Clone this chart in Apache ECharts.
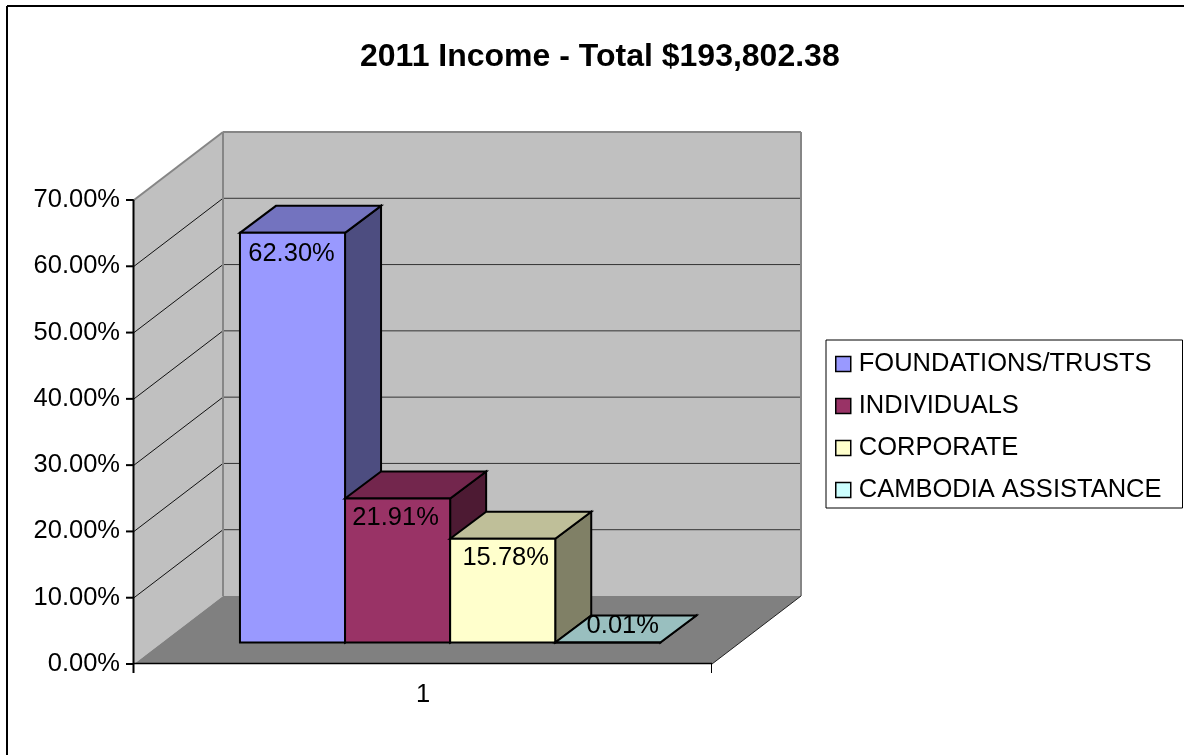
<!DOCTYPE html>
<html>
<head>
<meta charset="utf-8">
<title>2011 Income</title>
<script src="https://cdn.jsdelivr.net/npm/echarts@6/dist/echarts.min.js"></script>
<style>
html, body { margin: 0; padding: 0; background: #fff; }
#main { width: 1184px; height: 755px; }
</style>
</head>
<body>
<div id="main"></div>
<script>
const titleText = '2011 Income - Total $193,802.38';
const categories = ['1'];
const seriesNames = ['FOUNDATIONS/TRUSTS', 'INDIVIDUALS', 'CORPORATE', 'CAMBODIA ASSISTANCE'];
const seriesValues = [62.30, 21.91, 15.78, 0.01];
const valueTicks = [0, 10, 20, 30, 40, 50, 60, 70];

const frontColors = ['#9999FF', '#993366', '#FFFFCC', '#CCFFFF'];
const topColors = ['#7373BF', '#73264D', '#BFBF99', '#99BFBF'];
const sideColors = ['#4D4D80', '#4D1A33', '#808066', '#668080'];

// 3d look: how far the back wall and the bars are pushed up and right
const WALL_DX = 89, WALL_DY = -68;
const BAR_LIFT = 21.5, BAR_DX = 36, BAR_DY = -27;
const BAR_SCALE = 0.992;
const FONT = '"Liberation Sans", Arial, sans-serif';
// label offset from the bar's top front centre
const labelNudge = [[-1, 21], [-2, 20], [3, 19], [15, -16]];

const chart = echarts.init(document.getElementById('main'), null, { renderer: 'canvas' });

function poly(points, fill, stroke, width) {
  return {
    type: 'polygon',
    shape: { points: points },
    style: { fill: fill, stroke: stroke || null, lineWidth: width || 0, lineJoin: 'miter' }
  };
}
function seg(x1, y1, x2, y2, color, width) {
  return {
    type: 'line',
    shape: { x1: x1, y1: y1, x2: x2, y2: y2 },
    style: { stroke: color, lineWidth: width }
  };
}

// walls, floor, gridlines and the axis lines with their ticks
function renderWalls(params, api) {
  const cs = params.coordSys;
  const left = cs.x, right = cs.x + cs.width;
  const y0 = api.coord([0, 0])[1];
  const yTop = api.coord([0, valueTicks[valueTicks.length - 1]])[1];
  const backL = left + WALL_DX, backR = right + WALL_DX;
  const kids = [
    poly([[backL, yTop + WALL_DY], [backR, yTop + WALL_DY], [backR, y0 + WALL_DY], [backL, y0 + WALL_DY]], '#C0C0C0'),
    poly([[left, yTop], [backL, yTop + WALL_DY], [backL, y0 + WALL_DY], [left, y0]], '#C0C0C0'),
    poly([[left, y0], [right, y0], [backR, y0 + WALL_DY], [backL, y0 + WALL_DY]], '#808080')
  ];
  valueTicks.forEach(function (v, k) {
    const y = api.coord([0, v])[1];
    if (k > 0 && k < valueTicks.length - 1) {
      kids.push(seg(left, y, backL, y + WALL_DY, '#111', 1));
      kids.push(seg(backL, y + WALL_DY, backR, y + WALL_DY, '#333', 1));
    }
    kids.push(seg(left - 8, y, left, y, '#000', 2));
  });
  kids.push(seg(left, yTop, backL, yTop + WALL_DY, '#868686', 2));
  kids.push(seg(backL, yTop + WALL_DY, backR, yTop + WALL_DY, '#868686', 2));
  kids.push(seg(backL, yTop + WALL_DY, backL, y0 + WALL_DY, '#868686', 2));
  kids.push(seg(backR, yTop + WALL_DY, backR, y0 + WALL_DY, '#868686', 2));
  kids.push(seg(right, y0, backR, y0 + WALL_DY, '#222', 1));
  kids.push(seg(left - 0.5, yTop, left - 0.5, y0 + 9, '#000', 2));
  kids.push(seg(left, y0 - 0.5, right, y0 - 0.5, '#000', 1.5));
  kids.push(seg(right - 0.5, y0, right - 0.5, y0 + 9, '#000', 1));
  return { type: 'group', children: kids };
}

function renderBar(params, api) {
  const i = params.seriesIndex - 1;
  const cs = params.coordSys;
  const bw = cs.width / (seriesNames.length + 1.5);
  const y0 = api.coord([0, 0])[1];
  const h = (y0 - api.coord([0, api.value(1)])[1]) * BAR_SCALE;
  const shift = BAR_LIFT * WALL_DX / -WALL_DY - 1;
  const x1 = cs.x + shift + bw * (0.75 + i);
  const x2 = x1 + bw;
  const base = y0 - BAR_LIFT;
  const top = base - h;
  const line = '#000';
  return {
    type: 'group',
    children: [
      poly([[x2, base], [x2 + BAR_DX, base + BAR_DY], [x2 + BAR_DX, top + BAR_DY], [x2, top]], sideColors[i], line, 2),
      poly([[x1, top], [x2, top], [x2 + BAR_DX, top + BAR_DY], [x1 + BAR_DX, top + BAR_DY]], topColors[i], line, 2),
      poly([[x1, base], [x2, base], [x2, top], [x1, top]], frontColors[i], line, 2),
      {
        type: 'text',
        style: {
          text: api.value(1).toFixed(2) + '%',
          x: (x1 + x2) / 2 + labelNudge[i][0],
          y: top + labelNudge[i][1],
          textAlign: 'center',
          textVerticalAlign: 'middle',
          fill: '#000',
          font: '25.5px ' + FONT
        }
      }
    ]
  };
}

const barSeries = seriesNames.map(function (name, i) {
  return {
    type: 'custom',
    name: name,
    z: -1,
    coordinateSystem: 'cartesian2d',
    itemStyle: { color: frontColors[i] },
    renderItem: renderBar,
    encode: { x: 0, y: 1 },
    data: [[categories[0], seriesValues[i]]]
  };
});

chart.setOption({
  animation: false,
  backgroundColor: '#fff',
  title: {
    text: titleText,
    left: 355,
    top: 36,
    textStyle: { fontFamily: FONT, fontSize: 32, fontWeight: 'bold', color: '#000' }
  },
  legend: {
    data: seriesNames,
    orient: 'vertical',
    left: 826,
    top: 340,
    padding: [11, 21, 5, 9],
    itemWidth: 15,
    itemHeight: 15,
    itemGap: 16,
    icon: 'rect',
    borderColor: '#000',
    borderWidth: 1,
    backgroundColor: '#fff',
    itemStyle: { borderColor: '#000', borderWidth: 1.5 },
    textStyle: { fontFamily: FONT, fontSize: 25.5, color: '#000', padding: [0, 0, 0, 3] }
  },
  grid: { left: 134, top: 200, width: 578, height: 464, containLabel: false },
  xAxis: {
    type: 'category',
    data: categories,
    axisLine: { show: false },
    axisTick: { show: false },
    axisLabel: { color: '#000', fontFamily: FONT, fontSize: 25.5, margin: 18 },
    splitLine: { show: false }
  },
  yAxis: {
    type: 'value',
    position: 'left',
    min: valueTicks[0],
    max: valueTicks[valueTicks.length - 1],
    interval: 10,
    axisLine: { show: false },
    axisTick: { show: false },
    axisLabel: {
      color: '#000', fontFamily: FONT, fontSize: 25.5, margin: 14,
      formatter: function (v) { return v.toFixed(2) + '%'; }
    },
    splitLine: { show: false }
  },
  graphic: [
    { type: 'line', shape: { x1: 7, y1: 755, x2: 7, y2: 6 }, style: { stroke: '#000', lineWidth: 2 } },
    { type: 'line', shape: { x1: 7, y1: 6, x2: 1184, y2: 6 }, style: { stroke: '#000', lineWidth: 2 } }
  ],
  series: [{
    type: 'custom',
    name: 'walls',
    z: -2,
    coordinateSystem: 'cartesian2d',
    renderItem: renderWalls,
    encode: { x: 0, y: 1 },
    data: [[categories[0], 0]]
  }].concat(barSeries)
});
</script>
</body>
</html>
